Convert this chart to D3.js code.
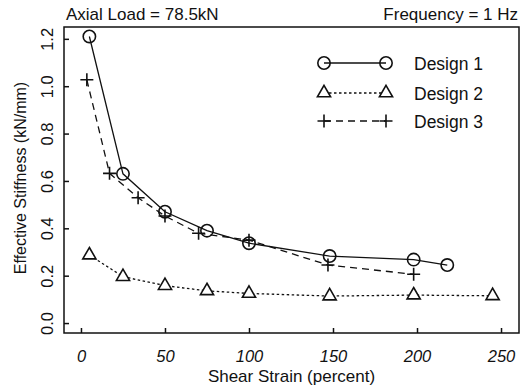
<!DOCTYPE html>
<html>
<head>
<meta charset="utf-8">
<script src="https://cdn.jsdelivr.net/npm/d3@7"></script>
<style>
  body { margin: 0; background: #fff; }
  text { font-family: "Liberation Sans", Arial, sans-serif; fill: #111; }
</style>
</head>
<body>
<div id="chart"></div>
<script>
// data
var strain1 = [5, 25, 50, 75, 100, 148, 198, 218];
var stiff1  = [1.21, 0.63, 0.47, 0.39, 0.337, 0.283, 0.268, 0.245];

var strain2 = [5, 25, 50, 75, 100, 148, 198, 245];
var stiff2  = [0.287, 0.196, 0.158, 0.136, 0.125, 0.114, 0.118, 0.115];

var strain3 = [3.5, 17, 34, 50, 70, 100, 147, 198];
var stiff3  = [1.027, 0.632, 0.529, 0.452, 0.379, 0.35, 0.245, 0.206];

var seriesNames = ["Design 1", "Design 2", "Design 3"];
var xTicks = [0, 50, 100, 150, 200, 250];
var yTicks = [0.0, 0.2, 0.4, 0.6, 0.8, 1.0, 1.2];

(function () {

var width = 524, height = 390;
var margin = {left: 64, right: 519, top: 27, bottom: 333};

var svg = d3.select("#chart").append("svg")
    .attr("width", width)
    .attr("height", height);

// scales
var x = d3.scaleLinear().domain([-10.1, 260.7]).range([margin.left, margin.right]);
var y = d3.scaleLinear().domain([-0.042, 1.25]).range([margin.bottom, margin.top]);

// axes, ticks point inward
var xAxis = d3.axisBottom(x).tickValues(xTicks).tickSizeInner(-5).tickSizeOuter(0).tickPadding(17);
var yAxis = d3.axisLeft(y).tickValues(yTicks).tickSizeInner(-5).tickSizeOuter(0)
    .tickFormat(d3.format(".1f"));

var gx = svg.append("g")
    .attr("transform", "translate(0," + margin.bottom + ")")
    .call(xAxis);
gx.select(".domain").remove();
gx.selectAll("line").attr("stroke", "#111").attr("stroke-width", 1.5);
gx.selectAll("text")
    .attr("font-size", 16.5)
    .attr("font-style", "italic")
    .style("font-family", "Liberation Sans, Arial, sans-serif")
    .attr("fill", "#111");

var gy = svg.append("g")
    .attr("transform", "translate(" + margin.left + ",0)")
    .call(yAxis);
gy.select(".domain").remove();
gy.selectAll("line").attr("stroke", "#111").attr("stroke-width", 1.5);
gy.selectAll("text")
    .attr("x", 0)
    .attr("dy", "0.35em")
    .attr("text-anchor", "middle")
    .attr("transform", "translate(-17,0) rotate(-90)")
    .attr("font-size", 16.5)
    .style("font-family", "Liberation Sans, Arial, sans-serif")
    .attr("fill", "#111");

// frame
svg.append("rect")
    .attr("x", margin.left)
    .attr("y", margin.top)
    .attr("width", margin.right - margin.left)
    .attr("height", margin.bottom - margin.top)
    .attr("fill", "none")
    .attr("stroke", "#111")
    .attr("stroke-width", 1.5);

// titles
svg.append("text")
    .attr("x", 66)
    .attr("y", 20)
    .attr("font-size", 17)
    .text("Axial Load = 78.5kN");

svg.append("text")
    .attr("x", 518)
    .attr("y", 20)
    .attr("text-anchor", "end")
    .attr("font-size", 17)
    .text("Frequency = 1 Hz");

svg.append("text")
    .attr("x", (margin.left + margin.right) / 2)
    .attr("y", 382)
    .attr("text-anchor", "middle")
    .attr("font-size", 17)
    .text("Shear Strain (percent)");

svg.append("text")
    .attr("transform", "translate(26,178) rotate(-90)")
    .attr("text-anchor", "middle")
    .attr("font-size", 16)
    .text("Effective Stiffness (kN/mm)");

// markers
var circleSym = d3.symbol().type(d3.symbolCircle).size(120);
var triSym = d3.symbol().type(d3.symbolTriangle).size(75);
var plusSym = function (s) {
  return "M" + (-s) + ",0H" + s + "M0," + (-s) + "V" + s;
};

function zip(xs, ys) {
  return xs.map(function (v, i) { return [v, ys[i]]; });
}

var series = [
  { name: seriesNames[0], pts: zip(strain1, stiff1), dash: null, mark: "circle" },
  { name: seriesNames[1], pts: zip(strain2, stiff2), dash: "2.5,2.5", mark: "tri" },
  { name: seriesNames[2], pts: zip(strain3, stiff3), dash: "7,5", mark: "plus" }
];

var line = d3.line()
    .x(function (d) { return x(d[0]); })
    .y(function (d) { return y(d[1]); });

function drawMark(g, kind) {
  if (kind === "circle") {
    g.append("path").attr("d", circleSym()).attr("fill", "none").attr("stroke", "#111").attr("stroke-width", 1.6);
  } else if (kind === "tri") {
    g.append("path").attr("d", triSym()).attr("fill", "#fff").attr("stroke", "#111").attr("stroke-width", 1.6);
  } else {
    g.append("path").attr("d", plusSym(6.5)).attr("fill", "none").attr("stroke", "#111").attr("stroke-width", 1.6);
  }
}

series.forEach(function (s) {
  svg.append("path")
      .datum(s.pts)
      .attr("d", line)
      .attr("fill", "none")
      .attr("stroke", "#111")
      .attr("stroke-width", 1.3)
      .attr("stroke-dasharray", s.dash);

  s.pts.forEach(function (p) {
    var g = svg.append("g").attr("transform", "translate(" + x(p[0]) + "," + y(p[1]) + ")");
    drawMark(g, s.mark);
  });
});

// legend
var legendY = [63, 93, 121];
series.forEach(function (s, i) {
  var ly = legendY[i];
  svg.append("line")
      .attr("x1", 324).attr("x2", 386)
      .attr("y1", ly).attr("y2", ly)
      .attr("stroke", "#111")
      .attr("stroke-width", 1.3)
      .attr("stroke-dasharray", s.dash);
  [324, 386].forEach(function (lx) {
    var g = svg.append("g").attr("transform", "translate(" + lx + "," + ly + ")");
    drawMark(g, s.mark);
  });
  svg.append("text")
      .attr("x", 414)
      .attr("y", ly + 7)
      .attr("font-size", 17.5)
      .text(s.name);
});

})();
</script>
</body>
</html>
